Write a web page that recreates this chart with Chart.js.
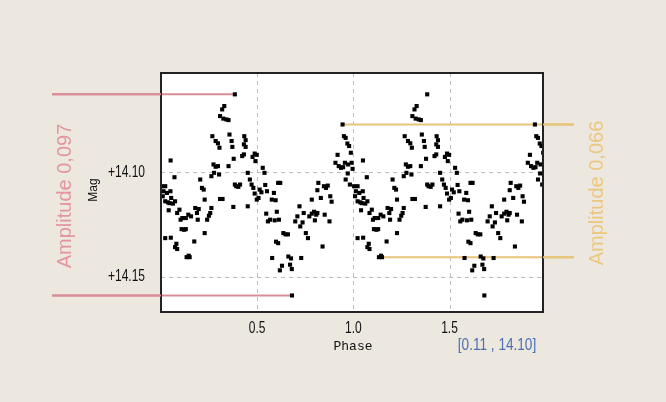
<!DOCTYPE html>
<html>
<head>
<meta charset="utf-8">
<script src="https://cdn.jsdelivr.net/npm/chart.js@4.4.0/dist/chart.umd.min.js"></script>
<style>
  html, body { margin: 0; padding: 0; background: #ece7df; }
  #wrap { width: 666px; height: 402px; }
</style>
</head>
<body>
<div id="wrap"><canvas id="c" width="666" height="402"></canvas></div>
<script>
// one folded cycle; it is shown twice (phase and phase + 1)
const phase = [
  0.004, 0.013, 0.009, 0.022, 0.031, 0.022, 0.036, 0.049, 0.050, 0.040, 0.022, 0.051, 0.062, 0.053, 0.070, 0.044,
  0.073, 0.084, 0.096, 0.102, 0.111, 0.107, 0.120, 0.129, 0.129, 0.073, 0.084, 0.080, 0.133, 0.144, 0.149, 0.142, 0.156,
  0.173, 0.178, 0.187, 0.196, 0.191, 0.204, 0.213, 0.222, 0.227, 0.227, 0.240, 0.249, 0.256, 0.262, 0.262, 0.276, 0.273,
  0.284, 0.296, 0.302, 0.267, 0.284, 0.296, 0.304, 0.307, 0.318, 0.329, 0.324, 0.340, 0.351, 0.307, 0.320, 0.351,
  0.356, 0.367, 0.371, 0.378, 0.384, 0.391, 0.402, 0.411, 0.376, 0.384, 0.422, 0.431, 0.433, 0.440, 0.431, 0.440,
  0.451, 0.462, 0.471, 0.476, 0.487, 0.491, 0.498, 0.480, 0.487, 0.498, 0.507, 0.513, 0.522, 0.529, 0.538, 0.542, 0.551, 0.451,
  0.547, 0.556, 0.567, 0.576, 0.587, 0.596, 0.609, 0.620, 0.591, 0.602, 0.613, 0.598, 0.609, 0.578, 0.618, 0.629,
  0.636, 0.647, 0.660, 0.662, 0.671, 0.680, 0.676, 0.681, 0.698, 0.709, 0.720, 0.724, 0.736, 0.729,
  0.742, 0.753, 0.764, 0.771, 0.784, 0.796, 0.807, 0.818, 0.813, 0.800, 0.840, 0.784, 0.831, 0.847, 0.858, 0.867,
  0.876, 0.880, 0.887, 0.813, 0.851,
  0.907, 0.918, 0.924, 0.936, 0.944, 0.951, 0.960, 0.969, 0.978, 0.987, 0.960, 0.971, 0.947, 0.982, 0.996, 0.991, 0.956, 0.973
];
const mag = [
  14.1067, 14.1091, 14.1115, 14.1067, 14.1099, 14.1139, 14.1144, 14.1091, 14.0944, 14.1182, 14.1315, 14.1313, 14.1150, 14.1123, 14.1024, 14.1148,
  14.1139, 14.1195, 14.1179, 14.1227, 14.1219, 14.1272, 14.1275, 14.1272, 14.1219, 14.1358, 14.1367, 14.1342, 14.1406, 14.1399, 14.1406, 14.1203, 14.1211,
  14.1331, 14.1171, 14.1195, 14.1176, 14.1227, 14.1035, 14.1075, 14.1083, 14.1131, 14.1291, 14.1227, 14.1208, 14.1195, 14.1171, 14.1019, 14.1003, 14.0963,
  14.0974, 14.0971, 14.1011, 14.0828, 14.0851, 14.0862, 14.0883, 14.0732, 14.0700, 14.0684, 14.0744, 14.0748, 14.0751, 14.1128, 14.1128, 14.0971,
  14.0820, 14.0851, 14.0879, 14.0936, 14.1059, 14.1067, 14.1070, 14.1059, 14.1166, 14.0628, 14.0923, 14.0915, 14.0828, 14.0847, 14.0867, 14.0879,
  14.1003, 14.1035, 14.1059, 14.0927, 14.0911, 14.0947, 14.0917, 14.1075, 14.1102, 14.1131, 14.1123, 14.1083, 14.1096, 14.0979, 14.1003, 14.1061, 14.1091, 14.1163,
  14.1198, 14.1235, 14.1227, 14.1131, 14.1099, 14.1134, 14.1051, 14.1051, 14.1230, 14.1189, 14.1227, 14.1332, 14.1339, 14.1410, 14.1469, 14.1447,
  14.1291, 14.1297, 14.1297, 14.1403, 14.1442, 14.1463, 14.1412, 14.1589, 14.1235, 14.1211, 14.1163, 14.1259, 14.1240, 14.1410,
  14.1195, 14.1291, 14.1315, 14.1211, 14.1198, 14.1189, 14.1203, 14.1051, 14.1086, 14.1230, 14.1355, 14.1131, 14.1123, 14.1067, 14.1075, 14.1064,
  14.1235, 14.1115, 14.1141, 14.1195, 14.1203,
  14.0955, 14.0917, 14.0971, 14.0979, 14.0772, 14.0828, 14.0836, 14.0863, 14.0875, 14.0907, 14.1035, 14.1006, 14.0976, 14.1059, 14.0984, 14.0955, 14.0955, 14.0963
];

const xTicks = [0.5, 1.0, 1.5];
const yTicks = [14.10, 14.15];
const cursorLabel = '[0.11 , 14.10]';

// amplitude markers: magnitude of the extreme points and the phase where each line meets them
const leftAmp = { text: 'Amplitude 0,097', hi: 14.0628, lo: 14.1589, hiPhase: 0.384, loPhase: 0.681 };
const rightAmp = { text: 'Amplitude 0,066', hi: 14.0772, lo: 14.1406, hiPhase: 0.944, loPhase: 1.149 };

const points = [];
phase.forEach((p, i) => {
  points.push({ x: p, y: mag[i] });
  points.push({ x: p + 1, y: mag[i] });
});

const sans = "'Liberation Sans', Arial, sans-serif";
const pink = '#d98d98';
const gold = '#e6c47a';

// condensed text: regular sans squeezed horizontally
function narrowText(ctx, txt, cx, cy, size, sx, color, align) {
  ctx.save();
  ctx.translate(cx, cy);
  ctx.scale(sx, 1);
  ctx.font = size + 'px ' + sans;
  ctx.fillStyle = color;
  ctx.textAlign = align;
  ctx.textBaseline = 'middle';
  ctx.fillText(txt, 0, 0);
  ctx.restore();
}

const decor = {
  id: 'decor',
  beforeDraw(chart) {
    const { ctx, chartArea: a } = chart;
    ctx.save();
    ctx.fillStyle = '#ffffff';
    ctx.fillRect(a.left, a.top, a.right - a.left, a.bottom - a.top);
    ctx.restore();
  },
  beforeDatasetsDraw(chart) {
    const { ctx, chartArea: a, scales: { x, y } } = chart;
    ctx.save();
    // dashed grid
    ctx.strokeStyle = '#bdbdbd';
    ctx.lineWidth = 1;
    ctx.setLineDash([4, 4]);
    ctx.beginPath();
    xTicks.forEach(v => {
      const px = Math.round(x.getPixelForValue(v)) + 0.5;
      ctx.moveTo(px, a.top);
      ctx.lineTo(px, a.bottom);
    });
    yTicks.forEach(v => {
      const py = Math.round(y.getPixelForValue(v)) + 0.5;
      ctx.moveTo(a.left, py);
      ctx.lineTo(a.right, py);
    });
    ctx.stroke();
    ctx.setLineDash([]);

    ctx.lineWidth = 2;
    ctx.strokeStyle = pink;
    ctx.beginPath();
    ctx.moveTo(52, y.getPixelForValue(leftAmp.hi));
    ctx.lineTo(x.getPixelForValue(leftAmp.hiPhase), y.getPixelForValue(leftAmp.hi));
    ctx.moveTo(52, y.getPixelForValue(leftAmp.lo));
    ctx.lineTo(x.getPixelForValue(leftAmp.loPhase), y.getPixelForValue(leftAmp.lo));
    ctx.stroke();
    ctx.strokeStyle = gold;
    ctx.beginPath();
    ctx.moveTo(x.getPixelForValue(rightAmp.hiPhase), y.getPixelForValue(rightAmp.hi));
    ctx.lineTo(574, y.getPixelForValue(rightAmp.hi));
    ctx.moveTo(x.getPixelForValue(rightAmp.loPhase), y.getPixelForValue(rightAmp.lo));
    ctx.lineTo(574, y.getPixelForValue(rightAmp.lo));
    ctx.stroke();
    ctx.restore();
  },
  afterDraw(chart) {
    const { ctx, chartArea: a, scales: { x, y } } = chart;
    ctx.save();
    // frame
    ctx.strokeStyle = '#222222';
    ctx.lineWidth = 2;
    ctx.strokeRect(a.left, a.top, a.right - a.left, a.bottom - a.top);
    // line parts outside the frame
    ctx.strokeStyle = pink;
    ctx.beginPath();
    ctx.moveTo(52, y.getPixelForValue(leftAmp.hi));
    ctx.lineTo(a.left, y.getPixelForValue(leftAmp.hi));
    ctx.moveTo(52, y.getPixelForValue(leftAmp.lo));
    ctx.lineTo(a.left, y.getPixelForValue(leftAmp.lo));
    ctx.stroke();
    ctx.strokeStyle = gold;
    ctx.beginPath();
    ctx.moveTo(a.right, y.getPixelForValue(rightAmp.hi));
    ctx.lineTo(574, y.getPixelForValue(rightAmp.hi));
    ctx.moveTo(a.right, y.getPixelForValue(rightAmp.lo));
    ctx.lineTo(574, y.getPixelForValue(rightAmp.lo));
    ctx.stroke();

    // tick labels, placed by the scales
    xTicks.forEach(v => narrowText(ctx, v.toFixed(1), x.getPixelForValue(v), a.bottom + 17, 16, 0.75, '#111111', 'center'));
    yTicks.forEach(v => narrowText(ctx, '+' + v.toFixed(2), a.left - 16, y.getPixelForValue(v), 16, 0.75, '#111111', 'right'));

    // rotated texts
    const rot = (txt, cx, cy, font, color) => {
      ctx.save();
      ctx.translate(cx, cy);
      ctx.rotate(-Math.PI / 2);
      ctx.font = font;
      ctx.fillStyle = color;
      ctx.textAlign = 'center';
      ctx.textBaseline = 'middle';
      ctx.fillText(txt, 0, 0);
      ctx.restore();
    };
    rot(leftAmp.text, 65, 196, '20px ' + sans, '#e395a0');
    rot(rightAmp.text, 597, 193, '20px ' + sans, '#ecc781');
    rot('Mag', 94, 190, '12px ' + sans, '#111111');

    ctx.font = "13px 'Liberation Mono', 'DejaVu Sans Mono', monospace";
    ctx.fillStyle = '#111111';
    ctx.textAlign = 'center';
    ctx.textBaseline = 'middle';
    ctx.fillText('Phase', 353, 347);

    narrowText(ctx, cursorLabel, 497, 346, 16, 0.85, '#4a6fb3', 'center');
    ctx.restore();
  }
};

new Chart(document.getElementById('c'), {
  type: 'scatter',
  data: {
    datasets: [{
      data: points,
      backgroundColor: '#000000',
      borderColor: '#000000',
      borderWidth: 0,
      pointStyle: 'rect',
      pointRadius: 2.9,
      pointHoverRadius: 2.9
    }]
  },
  options: {
    responsive: false,
    devicePixelRatio: 1,
    animation: false,
    layout: { padding: { left: 0, top: 73, right: 123, bottom: 0 } },
    plugins: { legend: { display: false }, tooltip: { enabled: false } },
    scales: {
      x: {
        type: 'linear',
        min: 0,
        max: 1.986,
        afterBuildTicks: s => { s.ticks = xTicks.map(v => ({ value: v })); },
        afterFit: s => { s.height = 90; },
        ticks: { display: false },
        grid: { display: false },
        border: { display: false }
      },
      y: {
        type: 'linear',
        reverse: true,
        min: 14.0526,
        max: 14.1668,
        afterBuildTicks: s => { s.ticks = yTicks.map(v => ({ value: v })); },
        afterFit: s => { s.width = 161; },
        ticks: { display: false },
        grid: { display: false },
        border: { display: false }
      }
    }
  },
  plugins: [decor]
});
</script>
</body>
</html>
